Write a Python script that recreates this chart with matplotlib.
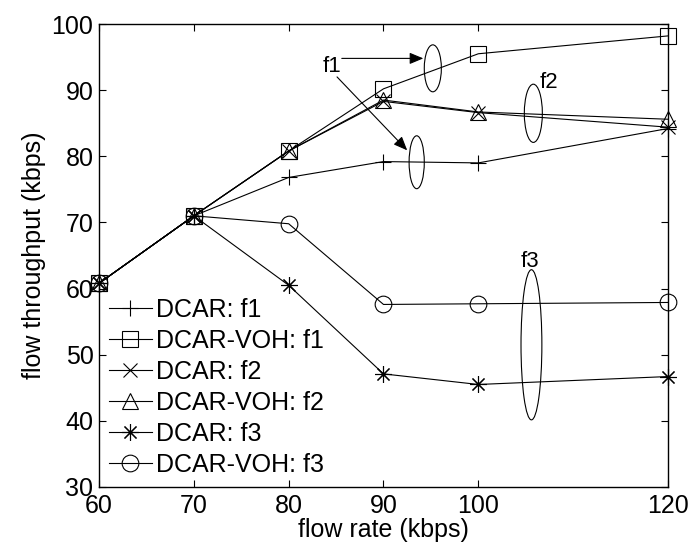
import matplotlib
matplotlib.use("Agg")
import matplotlib.pyplot as plt
from matplotlib.patches import Ellipse

plt.rcParams['font.family'] = ['Liberation Sans', 'DejaVu Sans']

rate = [60, 70, 80, 90, 100, 120]
dcar_f1 = [60.8, 71.0, 76.8, 79.2, 79.0, 84.2]
voh_f1 = [60.8, 71.0, 80.8, 90.2, 95.5, 98.2]
dcar_f2 = [60.8, 71.0, 80.8, 88.3, 86.6, 84.4]
voh_f2 = [60.8, 71.0, 80.8, 88.5, 86.7, 85.6]
dcar_f3 = [60.8, 71.0, 60.5, 47.1, 45.5, 46.7]
voh_f3 = [60.8, 71.0, 69.8, 57.6, 57.7, 57.9]

xticks = [60, 70, 80, 90, 100, 120]
yticks = [30, 40, 50, 60, 70, 80, 90, 100]

fig = plt.figure(figsize=(6.92, 5.52), dpi=100)
ax = fig.add_axes([99/692, 1 - 487/552, 569/692, 463/552])

asterisk = (8, 2, 0)
series = [
    (dcar_f1, '+', 12, 'DCAR: f1'),
    (voh_f1, 's', 11, 'DCAR-VOH: f1'),
    (dcar_f2, 'x', 10, 'DCAR: f2'),
    (voh_f2, '^', 12, 'DCAR-VOH: f2'),
    (dcar_f3, asterisk, 12, 'DCAR: f3'),
    (voh_f3, 'o', 12, 'DCAR-VOH: f3'),
]
for vals, m, ms, lab in series:
    ax.plot(rate, vals, color='black', lw=0.8, marker=m, ms=ms,
            mfc='none', mec='black', mew=0.8, label=lab, clip_on=False)

# ellipses grouping the flows
for cx, cy, w, h in [(95.2, 93.3, 1.8, 7.1), (93.5, 79.1, 1.6, 8.0),
                     (105.8, 86.5, 1.9, 8.8), (105.6, 51.5, 2.2, 22.7)]:
    ax.add_patch(Ellipse((cx, cy), w, h, fill=False, lw=0.8, color='black'))

ax.text(84.6, 93.6, 'f1', fontsize=16, ha='center', va='center')
ax.text(107.4, 91.1, 'f2', fontsize=16, ha='center', va='center')
ax.text(105.4, 64.1, 'f3', fontsize=16, ha='center', va='center')

arrow = dict(arrowstyle='-|>,head_length=0.6,head_width=0.25', color='black',
             lw=0.8, mutation_scale=14, shrinkA=0, shrinkB=0)
ax.annotate('', xy=(94.2, 94.8), xytext=(85.6, 94.8), arrowprops=arrow)
ax.annotate('', xy=(92.5, 80.9), xytext=(85.1, 92.0), arrowprops=arrow)

ax.set_xlim(60, 120)
ax.set_ylim(30, 100)
ax.set_xticks(xticks)
ax.set_yticks(yticks)
ax.tick_params(direction='in', length=5, width=0.8, top=True, right=True,
               labelsize=18)
ax.tick_params(axis='x', pad=5)
ax.tick_params(axis='y', pad=4)
for s in ax.spines.values():
    s.set_linewidth(1.0)

ax.set_xlabel('flow rate (kbps)', fontsize=18, labelpad=0)
ax.set_ylabel('flow throughput (kbps)', fontsize=18, labelpad=4)

ax.legend(loc='lower left', frameon=False, fontsize=18, handlelength=1.7,
          handletextpad=0.2, labelspacing=0.28, borderaxespad=0.2,
          borderpad=0.2)

fig.savefig('out.png', dpi=100)
